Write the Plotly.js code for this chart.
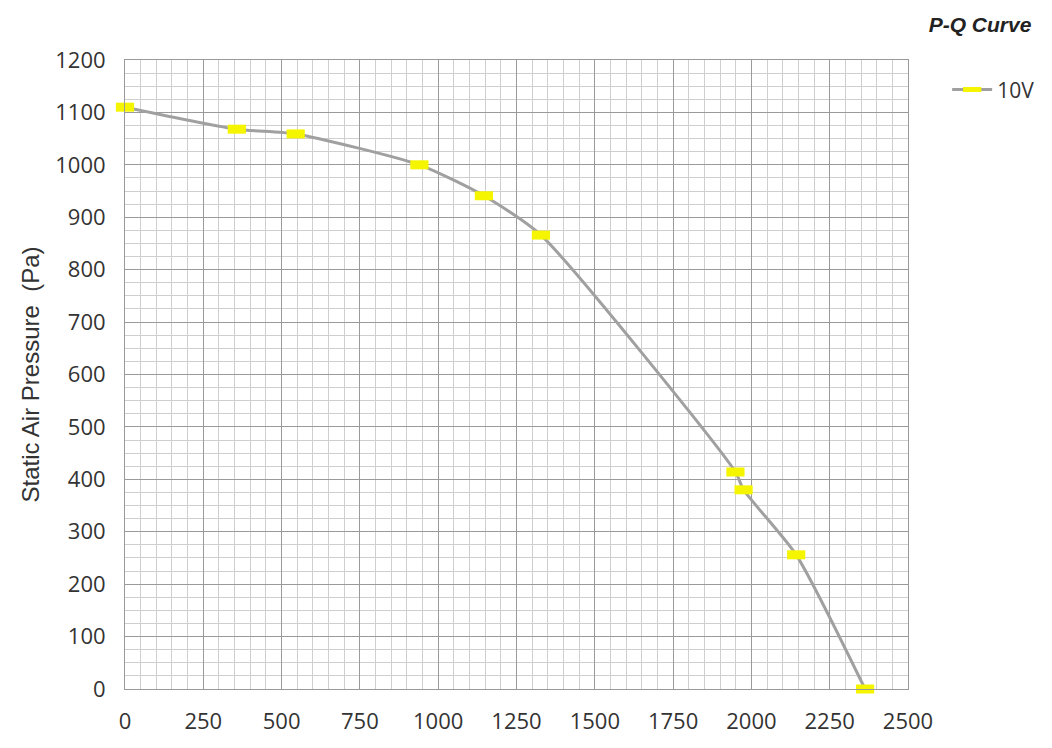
<!DOCTYPE html>
<html>
<head>
<meta charset="utf-8">
<script src="https://cdn.plot.ly/plotly-3.0.1.min.js"></script>
<style>html,body{margin:0;padding:0;background:#fff;}#chart{width:1052px;height:748px;}</style>
</head>
<body>
<div id="chart"></div>
<script>
const airflow = [0, 357, 545, 940, 1146, 1328, 1949, 1975, 2143, 2363];
const pressure = [1110, 1068, 1059, 1000, 941, 866, 414, 380, 256, 0];
const seriesName = '10V';
const xTicks = [0, 250, 500, 750, 1000, 1250, 1500, 1750, 2000, 2250, 2500];
const yTicks = [0, 100, 200, 300, 400, 500, 600, 700, 800, 900, 1000, 1100, 1200];

const trace = {
  x: airflow, y: pressure, name: seriesName,
  type: 'scatter', mode: 'lines+markers',
  line: {color: '#a0a0a0', width: 3, shape: 'spline', smoothing: 0.6},
  marker: {symbol: 'line-ew', size: 13, color: '#f5f500', line: {color: '#f5f500', width: 9}},
  cliponaxis: false
};

const font = {family: '"Open Sans", "Liberation Sans", sans-serif', size: 22, color: '#333'};

const layout = {
  width: 1052, height: 748,
  margin: {l: 125, r: 142, t: 60, b: 59},
  paper_bgcolor: '#fff', plot_bgcolor: '#fff',
  font: font,
  title: {text: '<b><i>P-Q Curve</i></b>', x: 980/1052, xanchor: 'center', xref: 'container',
          y: 1 - 25/748, yanchor: 'middle', yref: 'container',
          font: {family: '"Liberation Sans", Arial, sans-serif', size: 21, color: '#222'}},
  xaxis: {range: [0, 2500], tickvals: xTicks, ticktext: xTicks.map(String),
          showgrid: true, gridcolor: '#9a9a9a', gridwidth: 1,
          minor: {dtick: 50, showgrid: true, gridcolor: '#cfcfcf', gridwidth: 1},
          showline: true, linecolor: '#9a9a9a', mirror: true, zeroline: false,
          ticks: '', ticklen: 0, ticklabelstandoff: 13, tickfont: font, automargin: false},
  yaxis: {range: [0, 1200], tickvals: yTicks, ticktext: yTicks.map(String),
          showgrid: true, gridcolor: '#9a9a9a', gridwidth: 1,
          minor: {dtick: 25, showgrid: true, gridcolor: '#cfcfcf', gridwidth: 1},
          showline: true, linecolor: '#9a9a9a', mirror: true, zeroline: false,
          ticks: '', ticklabelstandoff: 14, tickfont: font, automargin: false,
          title: {text: 'Static Air Pressure  (Pa)', standoff: 8,
                  font: {family: '"Liberation Sans", Arial, sans-serif', size: 24, color: '#333'}}},
  showlegend: true,
  legend: {x: 1.05, xanchor: 'left', y: 0.985, yanchor: 'top', bgcolor: 'rgba(0,0,0,0)',
           itemwidth: 40, font: {family: font.family, size: 21, color: '#333'}}
};

Plotly.newPlot('chart', [trace], layout, {displayModeBar: false, staticPlot: true});
</script>
</body>
</html>
